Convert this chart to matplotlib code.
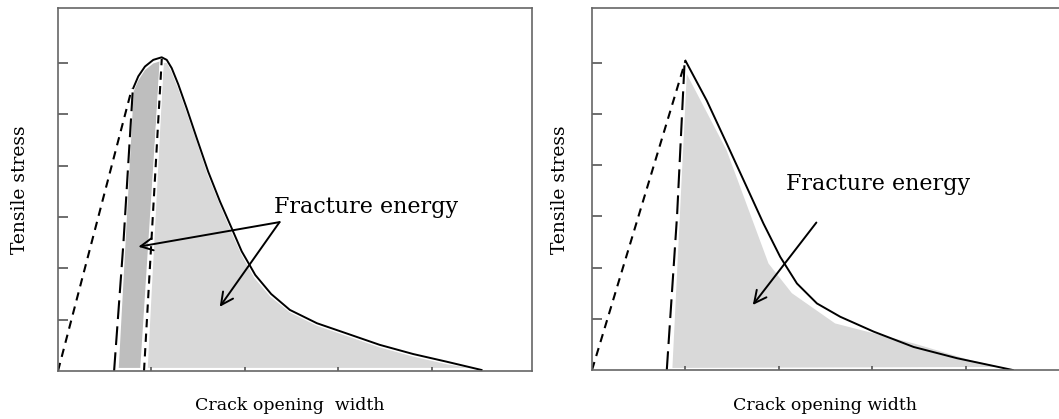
import matplotlib
matplotlib.use("Agg")
import matplotlib.pyplot as plt

plt.rcParams['font.family'] = ['DejaVu Serif']

# ---- left panel data (arbitrary units) ----
L_elastic_x = [0.0, 0.79]
L_elastic_y = [0.0, 5.5]
L_unload_x = [0.60, 0.70, 0.80]
L_unload_y = [0.0, 2.5, 5.48]
L_curve_x = [0.805, 0.859, 0.930, 1.019, 1.109, 1.163, 1.216, 1.287, 1.376, 1.483, 1.607, 1.733,
             1.858, 1.965, 2.06, 2.11, 2.28, 2.48, 2.77, 3.09, 3.44, 3.80, 4.16, 4.53]
L_curve_y = [5.51, 5.74, 5.93, 6.06, 6.11, 6.06, 5.90, 5.58, 5.12, 4.54, 3.88, 3.30,
             2.78, 2.33, 2.03, 1.87, 1.50, 1.19, 0.93, 0.73, 0.51, 0.33, 0.18, 0.02]
L_reload_x = [0.92, 1.11]
L_reload_y = [0.0, 6.08]
L_dark_x = [0.65, 0.81, 0.86, 0.93, 1.02, 1.09, 0.88]
L_dark_y = [0.06, 5.45, 5.66, 5.86, 5.99, 6.03, 0.06]
L_light_x = [0.96, 1.13, 1.163, 1.21, 1.28, 1.37, 1.48, 1.60, 1.73, 1.85, 1.96, 2.10, 2.27,
             2.48, 2.77, 3.09, 3.44, 3.80, 4.16, 4.40]
L_light_y = [0.06, 6.00, 6.00, 5.84, 5.52, 5.06, 4.48, 3.82, 3.24, 2.72, 2.27, 1.81, 1.45,
             1.14, 0.88, 0.68, 0.46, 0.28, 0.13, 0.06]

# ---- right panel data ----
R_elastic_x = [0.0, 1.0]
R_elastic_y = [0.0, 6.04]
R_unload_x = [0.80, 0.91, 0.99]
R_unload_y = [0.0, 3.02, 6.0]
R_curve_x = [1.0, 1.228, 1.442, 1.656, 1.834, 2.013, 2.192, 2.406, 2.655, 3.012, 3.44, 3.905, 4.50]
R_curve_y = [6.04, 5.26, 4.42, 3.57, 2.86, 2.21, 1.69, 1.30, 1.04, 0.75, 0.45, 0.23, 0.0]
R_light_x = [0.86, 1.014, 1.44, 1.888, 2.138, 2.60, 2.94, 3.44, 4.05, 4.37]
R_light_y = [0.04, 5.78, 4.29, 2.08, 1.50, 0.91, 0.75, 0.52, 0.19, 0.06]

ylabel = "Tensile stress"
xlabels = ["Crack opening  width", "Crack opening width"]
note = "Fracture energy"

dark_grey = '#bebebe'
light_grey = '#d9d9d9'
short_dash = (0, (4.0, 3.0))
long_dash = (0, (9.0, 3.5))

fig = plt.figure(figsize=(10.59, 4.19), dpi=100)
ax1 = fig.add_axes([58/1059, 48/419, 474/1059, 363/419])
ax2 = fig.add_axes([592/1059, 49/419, 474/1059, 362/419])

for ax in (ax1, ax2):
    ax.set_xlim(0, 5.07)
    ax.set_ylim(0, 7.07)
    ax.set_xticks([1, 2, 3, 4])
    ax.set_yticks([1, 2, 3, 4, 5, 6])
    ax.set_xticklabels([])
    ax.set_yticklabels([])
    ax.tick_params(axis='y', direction='in', length=7, width=1.2, color='#555555')
    ax.tick_params(axis='x', direction='in', length=3, width=1.2, color='#555555')
    for s in ax.spines.values():
        s.set_color('#666666')
        s.set_linewidth(1.2)

# left panel
ax1.fill(L_dark_x, L_dark_y, color=dark_grey, lw=0)
ax1.fill(L_light_x, L_light_y, color=light_grey, lw=0)
ax1.plot(L_elastic_x, L_elastic_y, color='black', lw=1.5, linestyle=short_dash)
ax1.plot(L_unload_x, L_unload_y, color='black', lw=1.5, linestyle=long_dash)
ax1.plot(L_reload_x, L_reload_y, color='white', lw=3.0)
ax1.plot(L_reload_x, L_reload_y, color='black', lw=1.5, linestyle=short_dash)
ax1.plot(L_curve_x, L_curve_y, color='black', lw=1.4, solid_joinstyle='round')
ax1.text(3.30, 3.08, note, ha='center', va='baseline', fontsize=16)
ax1.annotate('', xy=(0.86, 2.42), xytext=(2.37, 2.90),
             arrowprops=dict(arrowstyle='->', lw=1.4, mutation_scale=22, shrinkA=0, shrinkB=0))
ax1.annotate('', xy=(1.73, 1.25), xytext=(2.37, 2.90),
             arrowprops=dict(arrowstyle='->', lw=1.4, mutation_scale=22, shrinkA=0, shrinkB=0))

# right panel
ax2.fill(R_light_x, R_light_y, color=light_grey, lw=0)
ax2.plot(R_elastic_x, R_elastic_y, color='black', lw=1.5, linestyle=short_dash)
ax2.plot(R_unload_x, R_unload_y, color='black', lw=1.5, linestyle=long_dash)
ax2.plot(R_curve_x, R_curve_y, color='black', lw=1.4, solid_joinstyle='round')
ax2.text(3.06, 3.51, note, ha='center', va='baseline', fontsize=16)
ax2.annotate('', xy=(1.72, 1.27), xytext=(2.40, 2.88),
             arrowprops=dict(arrowstyle='->', lw=1.4, mutation_scale=22, shrinkA=0, shrinkB=0))

# axis titles
fig.text(20/1059, 1 - 190/419, ylabel, rotation=90, ha='center', va='center', fontsize=13.5)
fig.text(560/1059, 1 - 190/419, ylabel, rotation=90, ha='center', va='center', fontsize=13.5)
fig.text(290/1059, 1 - 405/419, xlabels[0], ha='center', va='center', fontsize=12.5)
fig.text(825/1059, 1 - 405/419, xlabels[1], ha='center', va='center', fontsize=12.5)

fig.savefig('out.png', dpi=100)
